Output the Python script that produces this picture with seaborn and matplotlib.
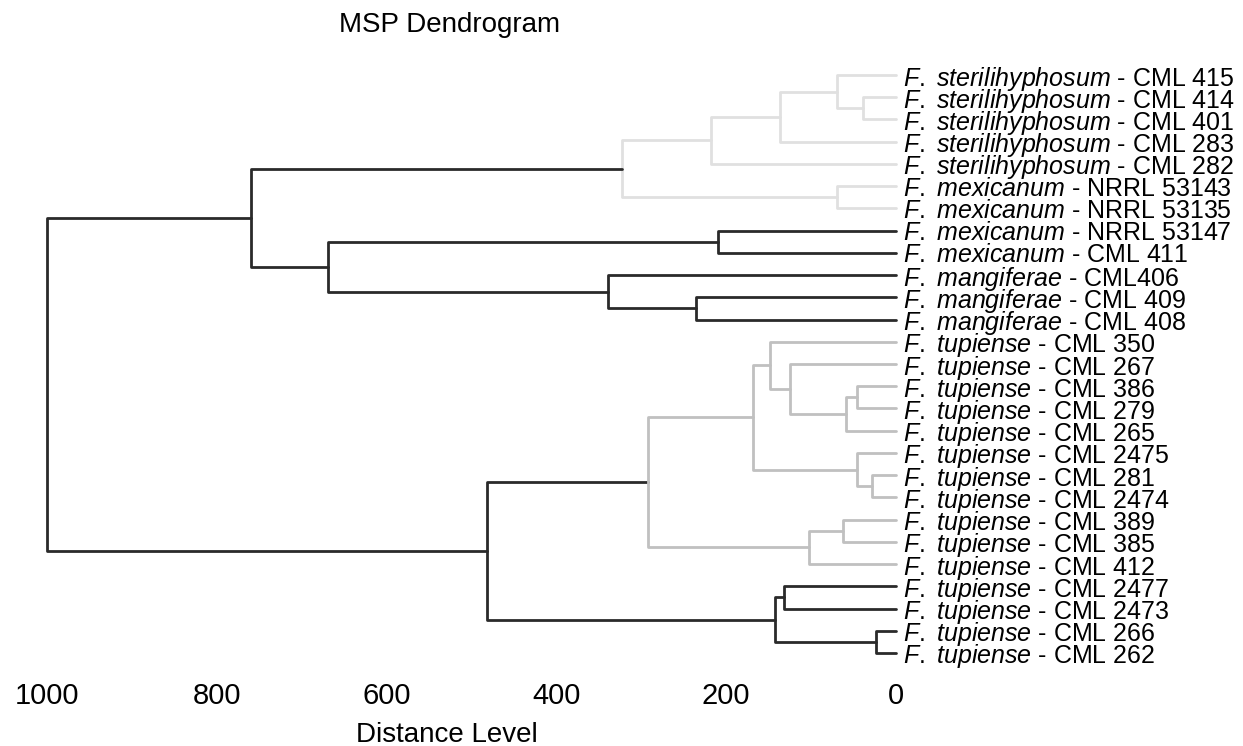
import numpy as np
import pandas as pd
import matplotlib
matplotlib.use("Agg")
import matplotlib.pyplot as plt
import seaborn as sns

# ---------------- data ----------------
species = (["F. sterilihyphosum"] * 5 + ["F. mexicanum"] * 4 +
           ["F. mangiferae"] * 3 + ["F. tupiense"] * 15)
strains = ["CML 415", "CML 414", "CML 401", "CML 283", "CML 282",
           "NRRL 53143", "NRRL 53135", "NRRL 53147", "CML 411",
           "CML406", "CML 409", "CML 408",
           "CML 350", "CML 267", "CML 386", "CML 279", "CML 265",
           "CML 2475", "CML 281", "CML 2474", "CML 389", "CML 385",
           "CML 412", "CML 2477", "CML 2473", "CML 266", "CML 262"]

# linkage (scipy-style: ids < 27 are leaves, 27+k is merge k)
merge_left = [1, 0, 28, 29, 5, 30, 7, 10, 9, 33, 32,
              14, 38, 13, 12, 18, 17, 41, 20, 45, 44,
              23, 25, 48, 47, 37]
merge_right = [2, 27, 3, 4, 6, 31, 8, 11, 34, 35, 36,
               15, 16, 39, 40, 19, 42, 43, 21, 22, 46,
               24, 26, 49, 50, 51]
merge_height = [39, 70, 137, 218, 70, 323, 210, 236, 339, 669, 760,
                46, 59, 125, 148, 28, 46, 169, 62, 103, 292,
                132, 24, 142, 482, 1000]
merge_group = ["light"] * 6 + ["dark"] * 5 + ["mid"] * 10 + ["dark"] * 5

tick_values = [1000, 800, 600, 400, 200, 0]
title = "MSP Dendrogram"
xlabel = "Distance Level"

# ---------------- build link segments ----------------
n = len(strains)
pos_x = {i: 0.0 for i in range(n)}
pos_y = {i: float(i) for i in range(n)}
rows = []
for k, (a, b, h, g) in enumerate(zip(merge_left, merge_right, merge_height, merge_group)):
    xa, ya = pos_x[a], pos_y[a]
    xb, yb = pos_x[b], pos_y[b]
    for order, (x, y) in enumerate([(xa, ya), (h, ya), (h, yb), (xb, yb)]):
        rows.append(dict(link=k, order=order, distance=x, leaf=y, group=g))
    pos_x[n + k] = h
    pos_y[n + k] = (ya + yb) / 2
df = pd.DataFrame(rows)

# ---------------- style ----------------
sns.set_theme(style="white")
plt.rcParams['font.family'] = ['Liberation Sans', 'DejaVu Sans']
plt.rcParams['mathtext.fontset'] = 'custom'
plt.rcParams['mathtext.rm'] = 'Liberation Sans'
plt.rcParams['mathtext.it'] = 'Liberation Sans:italic'
plt.rcParams['text.color'] = 'black'
plt.rcParams['xtick.color'] = 'black'
plt.rcParams['ytick.color'] = 'black'
plt.rcParams['xtick.labelcolor'] = 'black'
plt.rcParams['ytick.labelcolor'] = 'black'

W, H = 1243, 746
fig = plt.figure(figsize=(W / 100, H / 100), dpi=100)
left_px, right_px, top_px, bot_px = 47, 896, 60, 668
ax = fig.add_axes([left_px / W, 1 - bot_px / H, (right_px - left_px) / W, (bot_px - top_px) / H])

palette = {"light": "#e0e0e0", "mid": "#c0c0c0", "dark": "#2a2a2a"}
sns.lineplot(data=df, x="distance", y="leaf", units="link", estimator=None,
             sort=False, hue="group", palette=palette, linewidth=2.0,
             legend=False, ax=ax, clip_on=False)

ax.set_xlim(1000, 0)
ax.set_ylim(n - 1 + 0.675, -0.675)
for s in ax.spines.values():
    s.set_visible(False)
ax.grid(False)

ax.set_xticks(tick_values)
ax.set_xticklabels([str(v) for v in tick_values], fontsize=21, color="black")
ax.tick_params(axis="x", length=0, pad=10)

ax.yaxis.tick_right()
ax.set_yticks(range(n))
labels = []
for sp, st in zip(species, strains):
    sp_tex = sp.replace(" ", r"\ ")
    labels.append(r"$\mathit{" + sp_tex + "}$ - " + st)
ax.set_yticklabels(labels, fontsize=18, color="black")
ax.tick_params(axis="y", length=0, pad=5)
ax.set_xlabel("")
ax.set_ylabel("")

fig.text(447 / W, 1 - 735 / H, xlabel, ha="center", va="center", fontsize=20, color="black")
fig.text(450 / W, 1 - 25 / H, title, ha="center", va="center", fontsize=20, color="black")

fig.savefig("out.png", dpi=100, facecolor="white")
